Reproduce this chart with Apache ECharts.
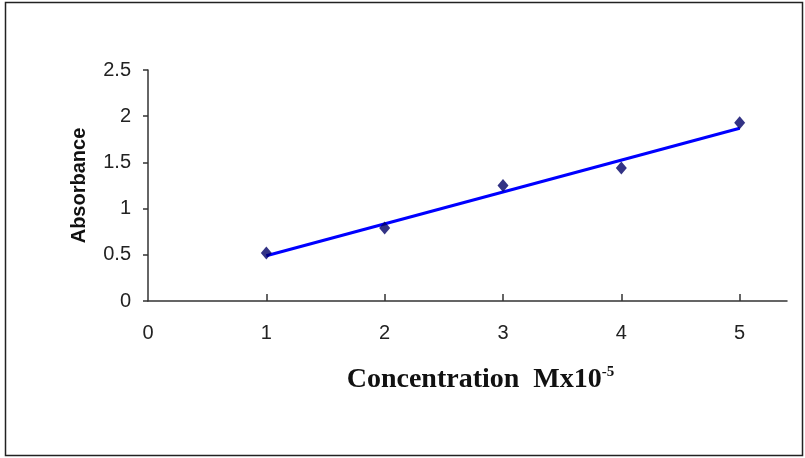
<!DOCTYPE html>
<html><head><meta charset="utf-8">
<script src="https://cdn.jsdelivr.net/npm/echarts@6/dist/echarts.min.js"></script>
<style>html,body{margin:0;padding:0;background:#fff}#c{width:805px;height:458px}</style>
</head><body><div id="c"></div>
<script>
var concentrations = [1, 2, 3, 4, 5];
var absorbance = [0.52, 0.79, 1.25, 1.44, 1.93];
var trendX = [1, 5];
var trendY = [0.49, 1.87];
var xTicks = [0, 1, 2, 3, 4, 5];
var yTicks = [0, 0.5, 1, 1.5, 2, 2.5];

var chart = echarts.init(document.getElementById('c'), null, {renderer: 'canvas'});
chart.setOption({
  animation: false,
  backgroundColor: '#fff',
  graphic: [{
    type: 'rect', shape: {x: 5.5, y: 2.5, width: 797, height: 453},
    style: {fill: 'none', stroke: '#222', lineWidth: 1.5}, z: -1
  }],
  grid: {left: 148, top: 70, width: 639, height: 231},
  xAxis: {
    type: 'value', min: 0, max: 5.4, interval: 1,
    showMaxLabel: false,
    name: '{a|Concentration  Mx10}{s|-5}',
    nameLocation: 'middle', nameGap: 64,
    nameTextStyle: {
      rich: {
        a: {fontFamily: 'Liberation Serif', fontWeight: 'bold', fontSize: 28, color: '#111', padding: [0, 0, 0, 26]},
        s: {fontFamily: 'Liberation Serif', fontWeight: 'bold', fontSize: 15, color: '#111', verticalAlign: 'top', padding: [0, 0, 14, 0]}
      }
    },
    axisLine: {onZero: false, lineStyle: {color: '#333', width: 1.5}},
    axisTick: {inside: true, length: 7, customValues: concentrations, lineStyle: {color: '#333', width: 1.5}},
    axisLabel: {margin: 22, customValues: xTicks, fontFamily: 'Liberation Sans', fontSize: 20, color: '#222'},
    splitLine: {show: false}
  },
  yAxis: {
    type: 'value', min: yTicks[0], max: yTicks[yTicks.length - 1], interval: 0.5,
    name: 'Absorbance', nameLocation: 'middle', nameGap: 59,
    nameTextStyle: {fontFamily: 'Liberation Sans', fontWeight: 'bold', fontSize: 20, color: '#111'},
    axisLine: {show: true, lineStyle: {color: '#333', width: 1.5}},
    axisTick: {show: true, length: 5, lineStyle: {color: '#333', width: 1.5}},
    axisLabel: {margin: 17, fontFamily: 'Liberation Sans', fontSize: 20, color: '#222'},
    splitLine: {show: false}
  },
  series: [{
    type: 'line',
    data: trendX.map(function (x, i) { return [x, trendY[i]]; }),
    showSymbol: false, symbol: 'none',
    lineStyle: {color: '#0000ff', width: 3},
    z: 2
  }, {
    type: 'scatter',
    data: concentrations.map(function (x, i) { return [x, absorbance[i]]; }),
    symbol: 'diamond', symbolSize: [11, 13],
    itemStyle: {color: '#000066'},
    z: 3
  }]
});
</script></body></html>
